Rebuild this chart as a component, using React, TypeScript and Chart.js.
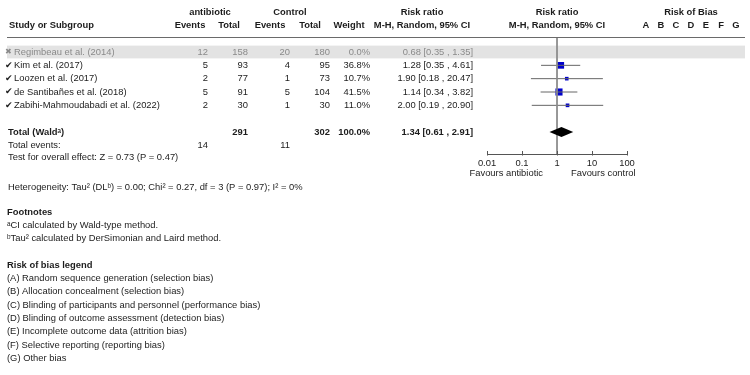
import { useEffect, useRef } from "react";
import { Chart, registerables } from "chart.js";
Chart.register(...registerables);

const studies = [
  "Regimbeau et al. (2014)",
  "Kim et al. (2017)",
  "Loozen et al. (2017)",
  "de Santibañes et al. (2018)",
  "Zabihi-Mahmoudabadi et al. (2022)",
];
const included = [false, true, true, true, true];
const abxEvents = [12, 5, 2, 5, 2];
const abxTotal = [158, 93, 77, 91, 30];
const ctrlEvents = [20, 4, 1, 5, 1];
const ctrlTotal = [180, 95, 73, 104, 30];
const weights = [0.0, 36.8, 10.7, 41.5, 11.0];
const riskRatio = [0.68, 1.28, 1.9, 1.14, 2.0];
const ciLow = [0.35, 0.35, 0.18, 0.34, 0.19];
const ciHigh = [1.35, 4.61, 20.47, 3.82, 20.9];

const pooledRR = [1.34];
const pooledLow = [0.61];
const pooledHigh = [2.91];
const pooledTotals = [291, 302];
const pooledEvents = [14, 11];
const pooledWeight = ["100.0%"];

const axisTicks = [0.01, 0.1, 1, 10, 100];
const axisTickLabels = ["0.01", "0.1", "1", "10", "100"];
const biasDomains = ["A", "B", "C", "D", "E", "F", "G"];
const footnoteLines = [
  "ᵃCI calculated by Wald-type method.",
  "ᵇTau² calculated by DerSimonian and Laird method.",
];
const biasLegend = [
  "(A) Random sequence generation (selection bias)",
  "(B) Allocation concealment (selection bias)",
  "(C) Blinding of participants and personnel (performance bias)",
  "(D) Blinding of outcome assessment (detection bias)",
  "(E) Incomplete outcome data (attrition bias)",
  "(F) Selective reporting (reporting bias)",
  "(G) Other bias",
];

const TOTAL_ROW = 6;
const Y_MIN = -1.125;
const Y_MAX = 7.65;
const FONT = "'Liberation Sans', Arial, sans-serif";
const FS = 9.4;
const fmt2 = (v: number) => v.toFixed(2);

export default function App() {
  const ref = useRef<HTMLCanvasElement | null>(null);
  useEffect(() => {
    document.body.style.margin = "0";
    const canvas = ref.current;
    if (!canvas) return;

    const ciDatasets = studies
      .map((_, i) => i)
      .filter((i) => included[i])
      .map((i) => ({
        type: "scatter" as const,
        data: [
          { x: ciLow[i], y: i },
          { x: ciHigh[i], y: i },
        ],
        showLine: true,
        borderColor: "#666666",
        borderWidth: 1,
        pointRadius: 0,
        fill: false,
      }));

    const sqIdx = studies.map((_, i) => i).filter((i) => included[i]);
    const squares = {
      type: "scatter" as const,
      data: sqIdx.map((i) => ({ x: riskRatio[i], y: i })),
      pointStyle: "rect",
      pointRadius: sqIdx.map((i) => Math.max(2.3, Math.sqrt(weights[i]) * 0.78)),
      backgroundColor: "#0000cc",
      borderColor: "#0000cc",
      borderWidth: 0,
      showLine: false,
    };

    const refLine = {
      type: "scatter" as const,
      data: [
        { x: 1, y: Y_MIN },
        { x: 1, y: Y_MAX },
      ],
      showLine: true,
      borderColor: "#8a8a8a",
      borderWidth: 1,
      pointRadius: 0,
      fill: false,
    };

    const tablePlugin = {
      id: "forestTable",
      beforeDatasetsDraw(chart: any) {
        const ctx = chart.ctx;
        const ys = chart.scales.y;
        ctx.save();
        studies.forEach((_, i) => {
          if (!included[i]) {
            const top = ys.getPixelForValue(i - 0.48);
            const bot = ys.getPixelForValue(i + 0.48);
            ctx.fillStyle = "#e3e3e3";
            ctx.fillRect(7, top, 738, bot - top);
          }
        });
        ctx.restore();
      },
      afterDatasetsDraw(chart: any) {
        // pooled diamond, positioned through the chart's scales
        const ctx = chart.ctx;
        const xs = chart.scales.x;
        const ys = chart.scales.y;
        const dh = 0.37;
        const yc = ys.getPixelForValue(TOTAL_ROW);
        const yt = ys.getPixelForValue(TOTAL_ROW - dh);
        const yb = ys.getPixelForValue(TOTAL_ROW + dh);
        ctx.save();
        ctx.fillStyle = "#000000";
        ctx.beginPath();
        ctx.moveTo(xs.getPixelForValue(pooledLow[0]), yc);
        ctx.lineTo(xs.getPixelForValue(pooledRR[0]), yt);
        ctx.lineTo(xs.getPixelForValue(pooledHigh[0]), yc);
        ctx.lineTo(xs.getPixelForValue(pooledRR[0]), yb);
        ctx.closePath();
        ctx.fill();
        ctx.restore();
      },
      afterDraw(chart: any) {
        const ctx = chart.ctx;
        const xs = chart.scales.x;
        const ys = chart.scales.y;
        ctx.save();
        const txt = (s: string, x: number, y: number, align: CanvasTextAlign, bold = false, color = "#1c1c1c", size = FS) => {
          ctx.font = `${bold ? "bold " : ""}${size}px ${FONT}`;
          ctx.fillStyle = color;
          ctx.textAlign = align;
          ctx.textBaseline = "middle";
          ctx.fillText(s, x, y);
        };
        // headers
        txt("antibiotic", 210, 12, "center", true);
        txt("Control", 290, 12, "center", true);
        txt("Risk ratio", 422, 12, "center", true);
        txt("Risk ratio", 557, 12, "center", true);
        txt("Risk of Bias", 691, 12, "center", true);
        txt("Study or Subgroup", 9, 25, "left", true);
        txt("Events", 190, 25, "center", true);
        txt("Total", 229, 25, "center", true);
        txt("Events", 270, 25, "center", true);
        txt("Total", 310, 25, "center", true);
        txt("Weight", 349, 25, "center", true);
        txt("M-H, Random, 95% CI", 422, 25, "center", true);
        txt("M-H, Random, 95% CI", 557, 25, "center", true);
        biasDomains.forEach((d, k) => txt(d, 646 + k * 15, 25, "center", true));
        ctx.strokeStyle = "#6a6a6a";
        ctx.lineWidth = 1;
        ctx.beginPath();
        ctx.moveTo(7, 37.5);
        ctx.lineTo(745, 37.5);
        ctx.stroke();

        // study rows
        studies.forEach((s, i) => {
          const y = ys.getPixelForValue(i);
          const c = included[i] ? "#1c1c1c" : "#8a8a8a";
          txt(included[i] ? "✔" : "✖", 5, y, "left", false, c, included[i] ? 9 : 7.5);
          txt(s, 14, y, "left", false, c);
          txt(String(abxEvents[i]), 208, y, "right", false, c);
          txt(String(abxTotal[i]), 248, y, "right", false, c);
          txt(String(ctrlEvents[i]), 290, y, "right", false, c);
          txt(String(ctrlTotal[i]), 330, y, "right", false, c);
          txt(weights[i].toFixed(1) + "%", 370, y, "right", false, c);
          txt(`${fmt2(riskRatio[i])} [${fmt2(ciLow[i])} , ${fmt2(ciHigh[i])}]`, 473, y, "right", false, c);
        });

        // total row
        const ty = ys.getPixelForValue(TOTAL_ROW);
        txt("Total (Waldᵃ)", 8, ty, "left", true);
        txt(String(pooledTotals[0]), 248, ty, "right", true);
        txt(String(pooledTotals[1]), 330, ty, "right", true);
        txt(pooledWeight[0], 370, ty, "right", true);
        txt(`${fmt2(pooledRR[0])} [${fmt2(pooledLow[0])} , ${fmt2(pooledHigh[0])}]`, 473, ty, "right", true);
        txt("Total events:", 8, 145, "left");
        txt(String(pooledEvents[0]), 208, 145, "right");
        txt(String(pooledEvents[1]), 290, 145, "right");
        txt("Test for overall effect: Z = 0.73 (P = 0.47)", 8, 157, "left");
        txt("Heterogeneity: Tau² (DLᵇ) = 0.00; Chi² = 0.27, df = 3 (P = 0.97); I² = 0%", 8, 187, "left");

        // axis
        const ay = chart.chartArea.bottom + 0.5;
        const x0 = xs.getPixelForValue(axisTicks[0]);
        const x1 = xs.getPixelForValue(axisTicks[axisTicks.length - 1]);
        ctx.strokeStyle = "#555555";
        ctx.beginPath();
        ctx.moveTo(x0, ay);
        ctx.lineTo(x1, ay);
        axisTicks.forEach((t) => {
          const px = Math.round(xs.getPixelForValue(t)) + 0.5;
          ctx.moveTo(px, ay - 3.5);
          ctx.lineTo(px, ay + 1);
        });
        ctx.stroke();
        axisTicks.forEach((t, k) => txt(axisTickLabels[k], xs.getPixelForValue(t), 163, "center"));
        const one = xs.getPixelForValue(1);
        txt("Favours antibiotic", one - 14, 173, "right");
        txt("Favours control", one + 14, 173, "left");

        // footnotes
        txt("Footnotes", 7, 212, "left", true);
        footnoteLines.forEach((l, k) => txt(l, 7, 225 + k * 13.3, "left"));
        txt("Risk of bias legend", 7, 265, "left", true);
        biasLegend.forEach((l, k) => txt(l, 7, 278.5 + k * 13.35, "left"));
        ctx.restore();
      },
    };

    const chart = new Chart(canvas, {
      type: "scatter",
      data: { datasets: [refLine, ...ciDatasets, squares] as any },
      options: {
        responsive: false,
        animation: false,
        events: [],
        layout: { padding: { left: 487, right: 123, top: 37, bottom: 221 } },
        plugins: { legend: { display: false }, tooltip: { enabled: false } },
        scales: {
          x: { type: "logarithmic", min: 0.01, max: 100, display: false },
          y: { type: "linear", min: Y_MIN, max: Y_MAX, reverse: true, display: false },
        },
      } as any,
      plugins: [tablePlugin],
    });
    return () => chart.destroy();
  }, []);
  return <canvas ref={ref} width={750} height={375} style={{ display: "block", width: 750, height: 375 }} />;
}
